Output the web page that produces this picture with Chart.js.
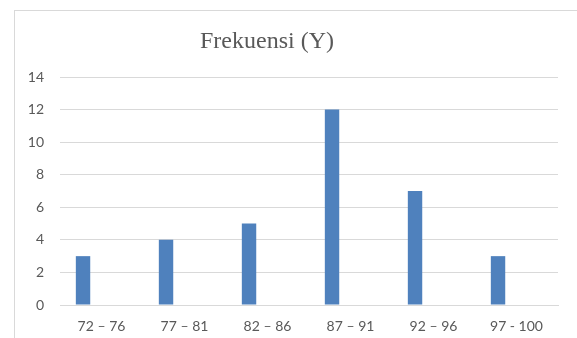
<!DOCTYPE html>
<html>
<head>
<meta charset="utf-8">
<script src="https://cdn.jsdelivr.net/npm/chart.js@4/dist/chart.umd.min.js"></script>
<style>
  html, body { margin: 0; padding: 0; background: #ffffff; }
  #wrap { position: relative; width: 577px; height: 338px; }
</style>
</head>
<body>
<div id="wrap"><canvas id="chart" width="577" height="338"></canvas></div>
<script>
// Frequency distribution of score intervals
const categories = ['72 – 76', '77 – 81', '82 – 86', '87 – 91', '92 – 96', '97 - 100'];
const frekuensi = [3, 4, 5, 12, 7, 3];
const emptySeries = [null, null, null, null, null, null];
const yTicks = { min: 0, max: 14, step: 2 };
const titleText = 'Frekuensi (Y)';

const textColor = '#595959';
const gridColor = '#d9d9d9';

// Outer frame and the centred title
const framePlugin = {
  id: 'frameAndTitle',
  beforeDraw(chart) {
    const ctx = chart.ctx;
    ctx.save();
    ctx.fillStyle = '#ffffff';
    ctx.fillRect(0, 0, chart.width, chart.height);
    ctx.strokeStyle = gridColor;
    ctx.lineWidth = 1;
    ctx.strokeRect(14.5, 10.5, 700, 500);
    ctx.restore();
  },
  afterDraw(chart) {
    const ctx = chart.ctx;
    ctx.save();
    ctx.fillStyle = textColor;
    ctx.font = '24px "Liberation Serif", "Times New Roman", serif';
    ctx.textAlign = 'center';
    ctx.textBaseline = 'middle';
    ctx.fillText(titleText, 267, 42);
    ctx.restore();
  }
};

new Chart(document.getElementById('chart'), {
  type: 'bar',
  data: {
    labels: categories,
    datasets: [
      {
        label: 'Frekuensi (Y)',
        data: frekuensi,
        backgroundColor: '#4f81bd',
        categoryPercentage: 0.89,
        barPercentage: 0.39
      },
      {
        label: '',
        data: emptySeries,
        backgroundColor: '#c0504d',
        categoryPercentage: 0.89,
        barPercentage: 0.39
      }
    ]
  },
  options: {
    responsive: false,
    animation: false,
    layout: { padding: { left: 14, right: 19, top: 77, bottom: 0 } },
    plugins: {
      legend: { display: false },
      title: { display: false },
      tooltip: { enabled: false }
    },
    scales: {
      x: {
        grid: { display: false, drawTicks: false },
        border: { display: true, color: gridColor, width: 1 },
        ticks: {
          color: textColor,
          font: { family: 'Lato, "Open Sans", sans-serif', size: 14 },
          padding: 13,
          maxRotation: 0,
          autoSkip: false
        },
        afterFit(scale) { scale.height = 33; }
      },
      y: {
        min: yTicks.min,
        max: yTicks.max,
        grid: { color: gridColor, lineWidth: 1, drawTicks: false },
        border: { display: false },
        ticks: {
          stepSize: yTicks.step,
          color: textColor,
          font: { family: 'Lato, "Open Sans", sans-serif', size: 14 },
          padding: 16
        },
        afterFit(scale) { scale.width = 46; }
      }
    }
  },
  plugins: [framePlugin]
});
</script>
</body>
</html>
